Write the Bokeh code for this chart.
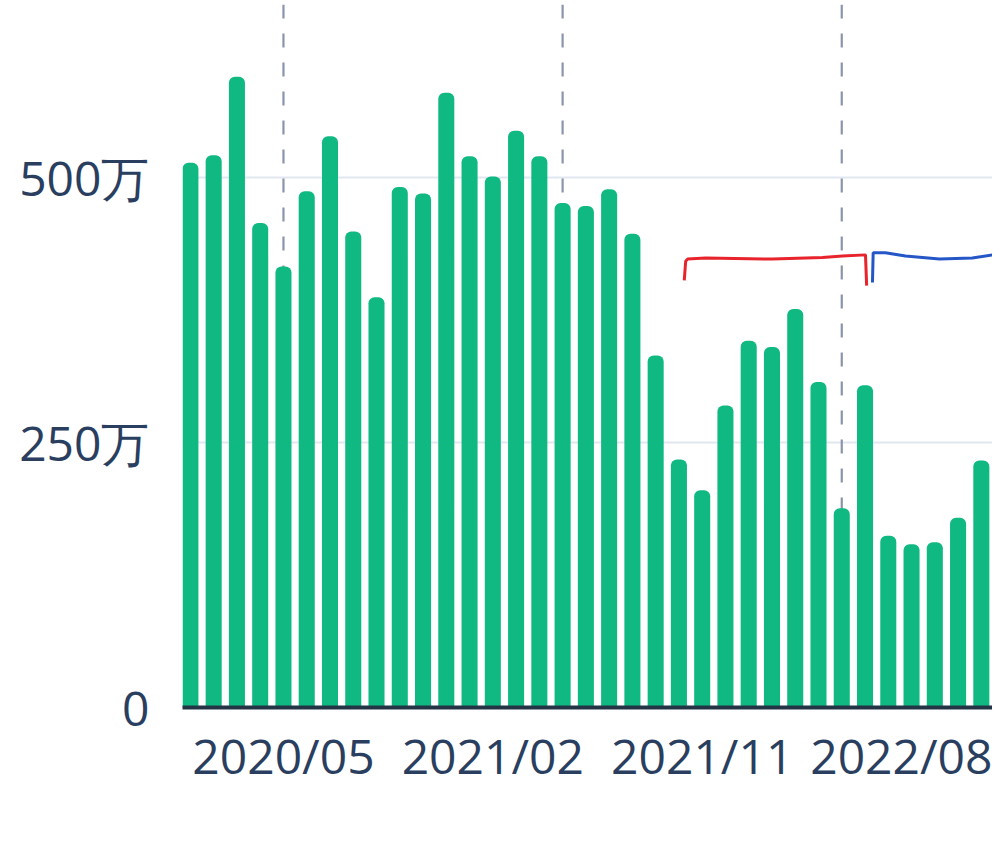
from bokeh.plotting import figure
from bokeh.models import Range1d, FixedTicker, Span
from bokeh.embed import file_html
from bokeh.resources import INLINE

# ---- data ----
months = [
    "2020/01", "2020/02", "2020/03", "2020/04", "2020/05", "2020/06",
    "2020/07", "2020/08", "2020/09", "2020/10", "2020/11", "2020/12",
    "2021/01", "2021/02", "2021/03", "2021/04", "2021/05", "2021/06",
    "2021/07", "2021/08", "2021/09", "2021/10", "2021/11", "2021/12",
    "2022/01", "2022/02", "2022/03", "2022/04", "2022/05", "2022/06",
    "2022/07", "2022/08", "2022/09", "2022/10", "2022/11",
]
values = [
    5140000, 5210000, 5950000, 4570000, 4160000, 4870000,
    5390000, 4490000, 3870000, 4910000, 4850000, 5800000,
    5200000, 5010000, 5440000, 5200000, 4760000, 4730000,
    4890000, 4470000, 3320000, 2340000, 2050000, 2850000,
    3460000, 3400000, 3760000, 3070000, 1880000, 3040000,
    1620000, 1540000, 1560000, 1790000, 2330000,
]
tick_months = ["2020/05", "2021/02", "2021/11", "2022/08"]
marker_months = ["2020/05", "2021/05", "2022/05"]
y_ticks = [0, 2500000, 5000000]
y_tick_labels = ["0", "250万", "500万"]

# hand-drawn brackets (x in month index, y in value)
red_x = [21.23, 21.29, 21.37, 22.15, 25.02, 27.17, 28.03, 29.02, 29.07]
red_y = [4030000, 4210000, 4230000, 4240000, 4230000, 4245000, 4260000, 4270000, 3980000]
blue_x = [29.32, 29.35, 29.87, 30.74, 32.20, 33.61, 34.50]
blue_y = [4010000, 4290000, 4290000, 4260000, 4230000, 4240000, 4270000]

x_idx = list(range(len(months)))

FONT = "Open Sans"
TXT = "#2a3f5f"

p = figure(
    width=992, height=840,
    x_range=Range1d(-0.34, 34.48),
    y_range=Range1d(0, 6632000),
    output_backend="svg", toolbar_location=None,
    min_border_left=182, min_border_right=0,
    min_border_top=4, min_border_bottom=133,
)
p.outline_line_color = None
p.background_fill_color = "white"

for m in marker_months:
    p.add_layout(Span(location=months.index(m), dimension="height",
                      line_color="#8a94aa", line_width=2.2,
                      line_dash="14 15", level="underlay"))

p.vbar(x=x_idx, top=values, width=0.69, bottom=0,
       fill_color="#10b981", line_color=None,
       border_radius=(6, 6, 0, 0))

p.line(red_x, red_y, line_color="#e8232c", line_width=3)
p.line(blue_x, blue_y, line_color="#2456c8", line_width=3)

# x axis
p.xaxis.ticker = FixedTicker(ticks=[months.index(m) for m in tick_months])
p.xaxis.major_label_overrides = {months.index(m): m for m in tick_months}
p.xaxis.axis_line_color = "#243447"
p.xaxis.axis_line_width = 4
p.xaxis.major_tick_line_color = None
p.xaxis.minor_tick_line_color = None
p.xaxis.major_tick_out = 0
p.xaxis.major_tick_in = 0
p.xaxis.major_label_standoff = 15
p.xaxis.major_label_text_font = FONT
p.xaxis.major_label_text_font_size = "48px"
p.xaxis.major_label_text_color = TXT

# y axis
p.yaxis.ticker = FixedTicker(ticks=y_ticks)
p.yaxis.major_label_overrides = dict(zip(y_ticks, y_tick_labels))
p.yaxis.axis_line_color = None
p.yaxis.major_tick_line_color = None
p.yaxis.minor_tick_line_color = None
p.yaxis.major_tick_out = 0
p.yaxis.major_tick_in = 0
p.yaxis.major_label_standoff = 33
p.yaxis.major_label_text_font = FONT
p.yaxis.major_label_text_font_size = "48px"
p.yaxis.major_label_text_color = TXT

p.xgrid.grid_line_color = None
p.ygrid.grid_line_color = "#e1e7f0"
p.ygrid.grid_line_width = 2

open("out.html", "w").write(file_html(p, INLINE))
